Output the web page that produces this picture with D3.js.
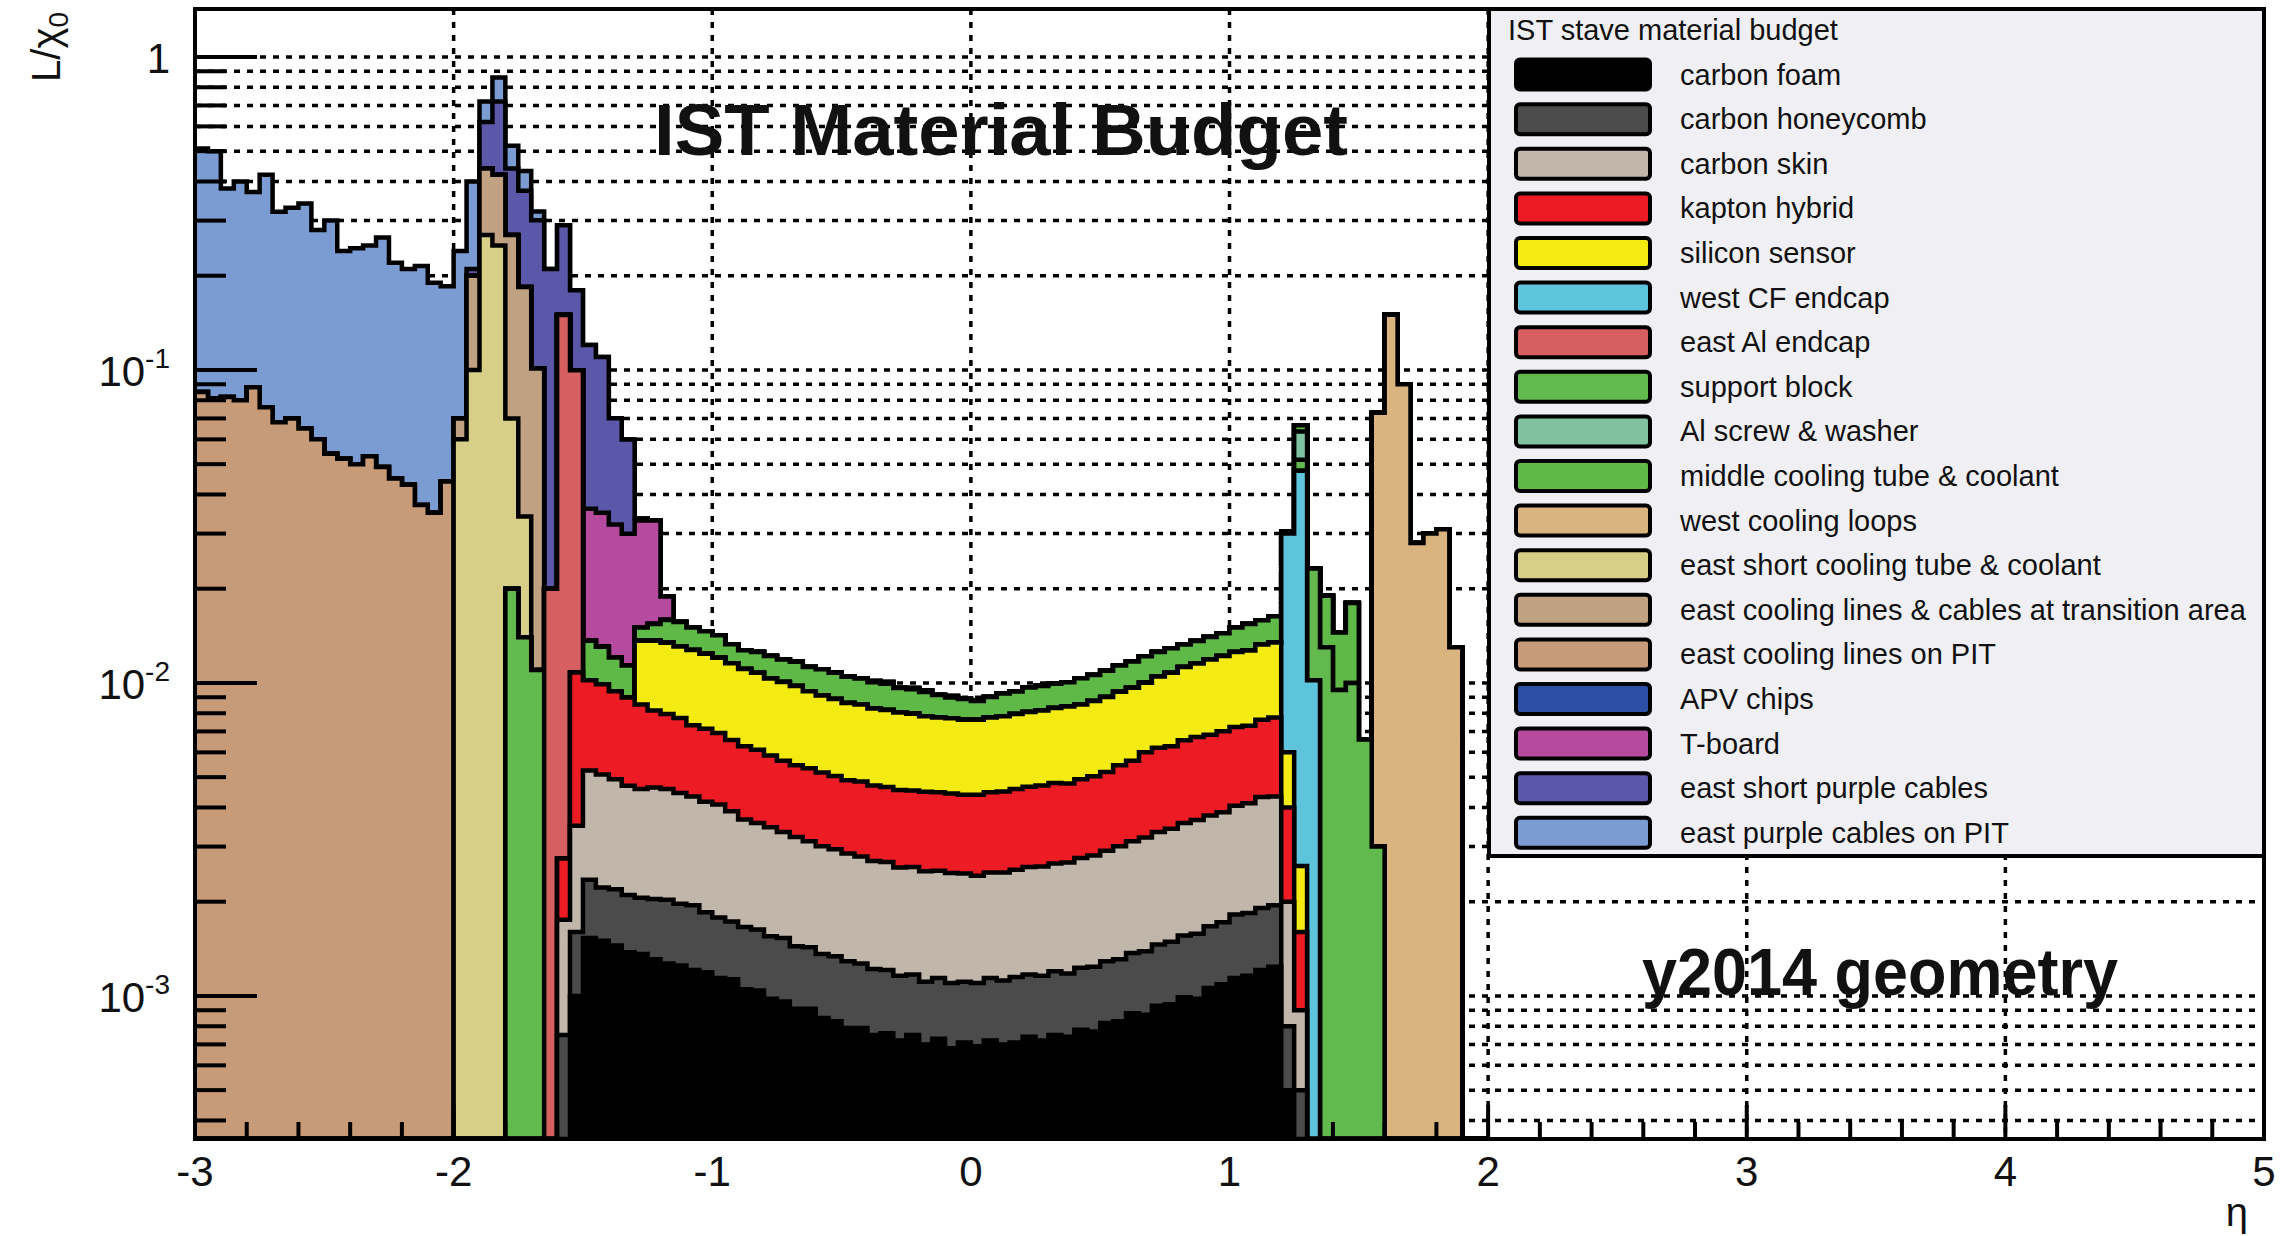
<!DOCTYPE html>
<html>
<head>
<meta charset="utf-8">
<script src="https://cdn.jsdelivr.net/npm/d3@7"></script>
<style>
  body { margin: 0; background: #fff; }
  text { font-family: "Liberation Sans", Arial, Helvetica, sans-serif; }
</style>
</head>
<body>
<svg id="chart" width="2295" height="1236"></svg>
<script>
// bins of 0.05 in eta, from -3 to 2
var binWidth = 0.05
var nBins = 100

var materials = [
  "carbon foam", "carbon honeycomb", "carbon skin", "kapton hybrid", "silicon sensor",
  "west CF endcap", "east Al endcap", "support block", "Al screw & washer",
  "middle cooling tube & coolant", "west cooling loops", "east short cooling tube & coolant",
  "east cooling lines & cables at transition area", "east cooling lines on PIT",
  "APV chips", "T-board", "east short purple cables", "east purple cables on PIT"
]
var colors = [
  "#000000", "#4b4b4b", "#c1b6aa", "#ed1c24", "#f3eb12",
  "#5dc4dc", "#d65f5f", "#62b94e", "#80c19f",
  "#5eb947", "#d9b47e", "#d7cf88",
  "#c0a283", "#c79b78",
  "#2d4fa3", "#b54a9f", "#5b58aa", "#7b9cd2"
]

// L/X0 per bin, each segment starts at eta "from"
var carbonFoam = [{from: -1.55, v: [0.0010, 0.00153, 0.00150, 0.00145, 0.00138, 0.00136, 0.00131, 0.00127, 0.00125, 0.00121,
  0.00119, 0.00114, 0.00113, 0.00105, 0.00104, 0.00098, 0.00096, 0.00091, 0.00091, 0.00085,
  0.00083, 0.00079, 0.00079, 0.00075, 0.00076, 0.00072, 0.00075, 0.00070, 0.00073, 0.00068,
  0.00071, 0.00069, 0.00072, 0.00070, 0.00071, 0.00074, 0.00072, 0.00075, 0.00074, 0.00078,
  0.00077, 0.00082, 0.00083, 0.00088, 0.00087, 0.00093, 0.00094, 0.00099, 0.00098, 0.00106,
  0.00109, 0.00114, 0.00116, 0.00121, 0.00124, 0.0005, 0.0002]}]
var carbonHoneycomb = [{from: -1.60, v: [0.00075, 0.0006, 0.00082, 0.00072, 0.00074, 0.00072, 0.0007, 0.00073, 0.00076, 0.00072,
  0.00074, 0.00066, 0.00064, 0.0006, 0.00061, 0.00059, 0.00057, 0.00057, 0.00053, 0.00052,
  0.00051, 0.00051, 0.0005, 0.00048, 0.00047, 0.00045, 0.00044, 0.00042, 0.00041, 0.00041,
  0.00042, 0.0004, 0.00041, 0.00042, 0.00042, 0.00044, 0.00043, 0.00044, 0.00045, 0.00044,
  0.00045, 0.00047, 0.00047, 0.00048, 0.00049, 0.00052, 0.00053, 0.00055, 0.00057, 0.0006,
  0.00061, 0.00063, 0.00068, 0.00068, 0.0007, 0.00071, 0.0003, 0.0003]}]
var carbonSkin = [{from: -1.60, v: [0.001, 0.0019, 0.0029, 0.00288, 0.00273, 0.00259, 0.00252, 0.00259, 0.00255, 0.00248,
  0.00239, 0.00232, 0.00231, 0.00216, 0.002, 0.00194, 0.00191, 0.00181, 0.00178, 0.00169,
  0.00165, 0.0016, 0.00156, 0.00152, 0.00148, 0.00147, 0.00141, 0.00141, 0.00139, 0.00137,
  0.00137, 0.00135, 0.00132, 0.00134, 0.00136, 0.00138, 0.00141, 0.00143, 0.00145, 0.00149,
  0.00153, 0.00157, 0.00162, 0.0017, 0.00175, 0.00182, 0.00188, 0.00193, 0.00201, 0.00207,
  0.0021, 0.00214, 0.00223, 0.00229, 0.00241, 0.00239, 0.0012, 0.0004]}]
var kaptonHybrid = [{from: -1.60, v: [0.001, 0.0073, 0.00494, 0.00481, 0.00448, 0.0043, 0.00395, 0.00354, 0.00338, 0.00328,
  0.00299, 0.00297, 0.00283, 0.00268, 0.00262, 0.00255, 0.0024, 0.0023, 0.00224, 0.00222,
  0.00216, 0.0021, 0.00204, 0.00205, 0.002, 0.00197, 0.00198, 0.00195, 0.00199, 0.00196,
  0.00196, 0.00193, 0.00197, 0.00199, 0.00202, 0.00205, 0.00208, 0.00211, 0.00214, 0.0021,
  0.00216, 0.00222, 0.00228, 0.00245, 0.00252, 0.00279, 0.00287, 0.00286, 0.00299, 0.00307,
  0.00306, 0.00315, 0.00318, 0.00317, 0.0033, 0.00341, 0.002, 0.0007]}]
var siliconSensor = [{from: -1.30, v: [0.00511, 0.00546, 0.00549, 0.00534, 0.0054, 0.00525, 0.00511, 0.00499, 0.00479, 0.00466,
  0.00447, 0.00442, 0.00431, 0.00406, 0.00395, 0.00384, 0.00374, 0.00369, 0.00359, 0.00354,
  0.00349, 0.00344, 0.00333, 0.00328, 0.00328, 0.00324, 0.00324, 0.00328, 0.00333, 0.00338,
  0.00342, 0.00347, 0.00352, 0.00363, 0.00362, 0.00372, 0.00382, 0.00391, 0.00402, 0.00402,
  0.00428, 0.00449, 0.00468, 0.00481, 0.00504, 0.00518, 0.00532, 0.0054, 0.00564, 0.00571,
  0.002, 0.001, 0.0002]}]
var westCFEndcap = [{from: 1.20, v: [0.024, 0.045, 0.010]}]
var eastAlEndcap = [{from: -1.65, v: [0.02, 0.147, 0.089]}]
var supportBlock = [{from: -1.80, v: [0.02, 0.014, 0.011]},
  {from: 1.25, v: [0.004, 0.013, 0.013, 0.0095, 0.010, 0.0066, 0.003]}]
var alScrewWasher = [{from: 1.25, v: [0.012]}]
var middleCooling = [{from: -1.50, v: [0.00344, 0.00315, 0.00265, 0.00238, 0.00139, 0.00181, 0.00243, 0.00258, 0.0023, 0.00224,
  0.00218, 0.00172, 0.00165, 0.00177, 0.00187, 0.00182, 0.00192, 0.00185, 0.00194, 0.00189,
  0.00184, 0.00181, 0.00176, 0.00175, 0.00159, 0.00157, 0.00154, 0.0014, 0.00127, 0.00125,
  0.00113, 0.00127, 0.00142, 0.00143, 0.00159, 0.00161, 0.00163, 0.00165, 0.00181, 0.00186,
  0.00192, 0.002, 0.00205, 0.00215, 0.00206, 0.00213, 0.00203, 0.00209, 0.00214, 0.00221,
  0.00248, 0.00272, 0.00261, 0.00287, 0.0005, 0.003, 0, 0.006, 0.005, 0.008]}]
var westCoolingLoops = [{from: 1.55, v: [0.07, 0.15, 0.09, 0.028, 0.030, 0.031, 0.013]}]
var eastShortTube = [{from: -2.00, v: [0.06, 0.10, 0.27, 0.25, 0.05, 0.02]}]
var eastLinesTransition = [{from: -2.00, v: [0.01, 0.10, 0.17, 0.17, 0.20, 0.15, 0.09]}]
var eastLinesPIT = [{from: -3.00, v: [0.085, 0.081, 0.082, 0.080, 0.088, 0.076, 0.068, 0.070, 0.065, 0.060,
  0.054, 0.052, 0.050, 0.053, 0.049, 0.045, 0.043, 0.037, 0.035, 0.044]}]
var apvChips = [{from: -0.40, v: [0.0001, 0.00012, 0, 0.0001, 0.00012, 0, 0.0001]}]
var tBoard = [{from: -1.50, v: [0.0224, 0.0219, 0.0200, 0.0186, 0.0180, 0.0176, 0.0030]}]
var eastShortPurple = [{from: -1.95, v: [0.01, 0.18, 0.30, 0.17, 0.19, 0.20, 0.19, 0.14, 0.08, 0.084,
  0.075, 0.038, 0.030, 0.0005]}]
var eastPurplePIT = [{from: -3.00, v: [0.425, 0.419, 0.298, 0.320, 0.282, 0.344, 0.252, 0.260, 0.275, 0.220,
  0.246, 0.188, 0.195, 0.197, 0.216, 0.175, 0.167, 0.178, 0.155, 0.141,
  0.170, 0.190, 0.100, 0.140, 0.080, 0.058, 0.020]}]

var series = [carbonFoam, carbonHoneycomb, carbonSkin, kaptonHybrid, siliconSensor,
  westCFEndcap, eastAlEndcap, supportBlock, alScrewWasher, middleCooling, westCoolingLoops,
  eastShortTube, eastLinesTransition, eastLinesPIT, apvChips, tBoard, eastShortPurple, eastPurplePIT]

var xTickLabels = ["-3", "-2", "-1", "0", "1", "2", "3", "4", "5"]
var yTickLabels = [{v: 1, base: "1", exp: ""}, {v: 0.1, base: "10", exp: "-1"},
  {v: 0.01, base: "10", exp: "-2"}, {v: 0.001, base: "10", exp: "-3"}]

var frame = {left: 195, right: 2264, top: 9, bottom: 1139}

var svg = d3.select("#chart")
var x = d3.scaleLinear().domain([-3, 5]).range([frame.left, frame.right])
var y = d3.scaleLog().domain([3.49e-4, 1.423]).range([frame.bottom, frame.top]).clamp(true)

function toBins(segs) {
  var a = new Array(nBins).fill(0)
  segs.forEach(function(s) {
    s.v.forEach(function(val, j) {
      var i = Math.round((s.from + 3) / binWidth) + j
      if (i >= 0 && i < nBins) a[i] += val
    })
  })
  return a
}

// stacked sums, like a THStack
var cumul = []
var running = new Array(nBins).fill(0)
series.forEach(function(s) {
  var b = toBins(s)
  running = running.map(function(r, i) { return r + b[i] })
  cumul.push(running.slice())
})

// ticks
var yTicks = []
for (var e = -4; e <= 0; e++) {
  for (var m = 1; m <= 9; m++) {
    var v = m * Math.pow(10, e)
    if (v >= y.domain()[0] && v <= y.domain()[1]) yTicks.push({v: v, major: m == 1})
  }
}
var xMajor = d3.range(-3, 5.001, 1)
var xMinor = d3.range(-3, 5.001, 0.2).filter(function(t) { return Math.abs(t - Math.round(t)) > 0.01 })

svg.append("defs").append("clipPath").attr("id", "frameclip")
  .append("rect").attr("x", frame.left).attr("y", frame.top)
  .attr("width", frame.right - frame.left).attr("height", frame.bottom - frame.top)

// dotted grid
var grid = svg.append("g").attr("class", "grid")
  .attr("stroke", "#000").attr("stroke-width", 3.5).attr("stroke-dasharray", "6 7")
grid.selectAll(".gy").data(yTicks).enter().append("line")
  .attr("x1", frame.left).attr("x2", frame.right)
  .attr("y1", function(d) { return y(d.v) }).attr("y2", function(d) { return y(d.v) })
grid.selectAll(".gx").data(xMajor.slice(1, -1)).enter().append("line")
  .attr("y1", frame.top).attr("y2", frame.bottom)
  .attr("x1", function(d) { return x(d) }).attr("x2", function(d) { return x(d) })

// titles on the pad
svg.append("text").attr("x", 654).attr("y", 155)
  .attr("font-size", 73).attr("font-weight", "bold").attr("fill", "#111")
  .attr("textLength", 694).attr("lengthAdjust", "spacingAndGlyphs")
  .text("IST Material Budget")
svg.append("text").attr("x", 1642).attr("y", 995)
  .attr("font-size", 66).attr("font-weight", "bold").attr("fill", "#111")
  .attr("textLength", 476).attr("lengthAdjust", "spacingAndGlyphs")
  .text("y2014 geometry")

// histograms, top of the stack drawn first
var hist = svg.append("g").attr("clip-path", "url(#frameclip)")
var area = d3.area().curve(d3.curveStepAfter)
  .x(function(d) { return x(d[0]) })
  .y0(frame.bottom)
  .y1(function(d) { return y(Math.max(d[1], 1e-9)) })
var line = d3.line().curve(d3.curveStepAfter)
  .x(function(d) { return x(d[0]) })
  .y(function(d) { return y(Math.max(d[1], 1e-9)) })

for (var k = cumul.length - 1; k >= 0; k--) {
  var c = cumul[k]
  var pts = d3.range(nBins + 1).map(function(i) { return [-3 + i * binWidth, c[Math.min(i, nBins - 1)]] })
  hist.append("path").attr("d", area(pts)).attr("fill", colors[k])
  hist.append("path").attr("d", line(pts)).attr("fill", "none")
    .attr("stroke", "#000").attr("stroke-width", 4.5).attr("stroke-linejoin", "miter")
}

// frame and ticks
var axes = svg.append("g").attr("stroke", "#000").attr("stroke-width", 4)
axes.append("rect").attr("x", frame.left).attr("y", frame.top)
  .attr("width", frame.right - frame.left).attr("height", frame.bottom - frame.top).attr("fill", "none")
axes.selectAll(".ty").data(yTicks).enter().append("line")
  .attr("x1", frame.left).attr("x2", function(d) { return frame.left + (d.major ? 62 : 31) })
  .attr("y1", function(d) { return y(d.v) }).attr("y2", function(d) { return y(d.v) })
axes.selectAll(".txM").data(xMajor).enter().append("line")
  .attr("x1", function(d) { return x(d) }).attr("x2", function(d) { return x(d) })
  .attr("y1", frame.bottom).attr("y2", frame.bottom - 34)
axes.selectAll(".txm").data(xMinor).enter().append("line")
  .attr("x1", function(d) { return x(d) }).attr("x2", function(d) { return x(d) })
  .attr("y1", frame.bottom).attr("y2", frame.bottom - 17)

svg.selectAll(".xlab").data(xMajor).enter().append("text")
  .attr("x", function(d) { return x(d) }).attr("y", 1186)
  .attr("text-anchor", "middle").attr("font-size", 42).attr("fill", "#111")
  .text(function(d, i) { return xTickLabels[i] })

var ylab = svg.selectAll(".ylab").data(yTickLabels).enter().append("text")
  .attr("x", 170).attr("y", function(d) { return y(d.v) + 16 })
  .attr("text-anchor", "end").attr("font-size", 42).attr("fill", "#111")
ylab.append("tspan").text(function(d) { return d.base })
ylab.append("tspan").attr("dy", -18).attr("font-size", 28).text(function(d) { return d.exp })

var ytitle = svg.append("text").attr("transform", "translate(60,12) rotate(-90)")
  .attr("text-anchor", "end").attr("font-size", 40).attr("fill", "#111")
ytitle.append("tspan").text("L/χ")
ytitle.append("tspan").attr("dy", 8).attr("font-size", 28).text("0")

svg.append("text").attr("x", 2248).attr("y", 1226).attr("text-anchor", "end")
  .attr("font-size", 40).attr("fill", "#111").text("η")

// legend
var leg = svg.append("g")
leg.append("rect").attr("x", 1489).attr("y", 9).attr("width", 775).attr("height", 847)
  .attr("fill", "#f0f0f4").attr("stroke", "#000").attr("stroke-width", 4)
leg.append("text").attr("x", 1508).attr("y", 40).attr("font-size", 29).attr("fill", "#111")
  .text("IST stave material budget")
var rows = leg.selectAll(".row").data(materials).enter().append("g")
  .attr("transform", function(d, i) { return "translate(0," + (74.6 + i * 44.6) + ")" })
rows.append("rect").attr("x", 1516).attr("y", -15).attr("width", 134).attr("height", 30).attr("rx", 4)
  .attr("fill", function(d, i) { return colors[i] }).attr("stroke", "#000").attr("stroke-width", 4)
rows.append("text").attr("x", 1680).attr("y", 10).attr("font-size", 29).attr("fill", "#111")
  .text(function(d) { return d })
</script>
</body>
</html>
